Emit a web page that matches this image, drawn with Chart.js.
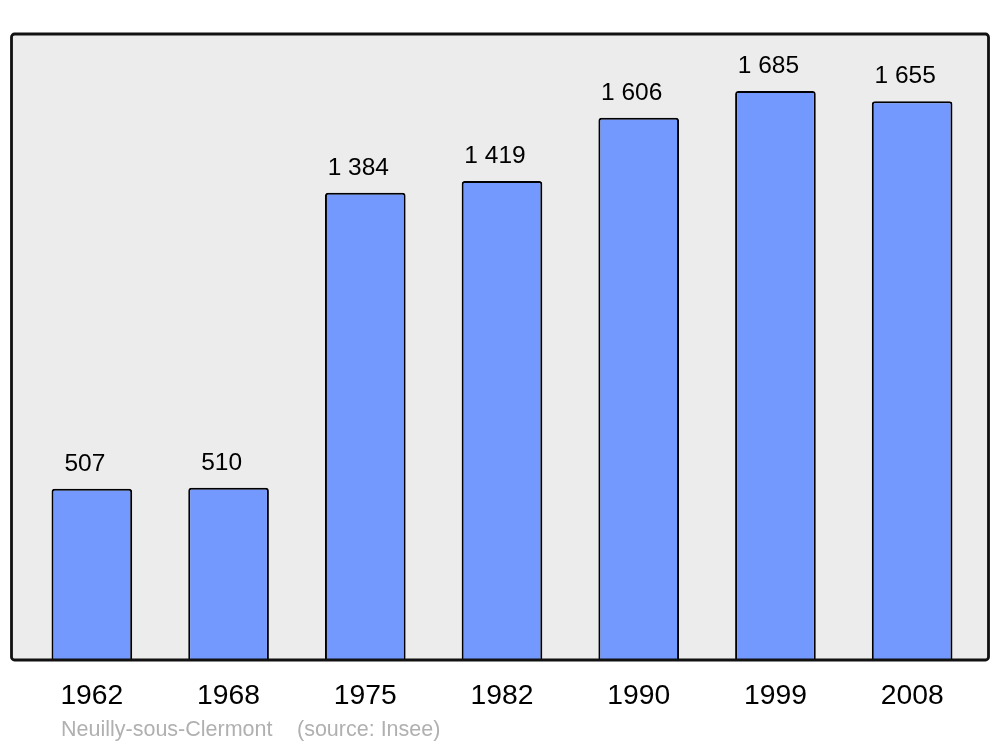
<!DOCTYPE html>
<html>
<head>
<meta charset="utf-8">
<script src="https://cdn.jsdelivr.net/npm/chart.js@4"></script>
<style>
  html, body { margin: 0; padding: 0; background: #ffffff; }
  #wrap { width: 1000px; height: 747px; }
</style>
</head>
<body>
<div id="wrap"><canvas id="c" width="1000" height="747"></canvas></div>
<script>
const years = ["1962", "1968", "1975", "1982", "1990", "1999", "2008"];
const population = [507, 510, 1384, 1419, 1606, 1685, 1655];
const placeName = "Neuilly-sous-Clermont";
const sourceNote = "(source: Insee)";

const FONT = "'Liberation Sans', Arial, sans-serif";

function fmt(v) {
  return String(v).replace(/\B(?=(\d{3})+(?!\d))/g, " ");
}

const frame = {
  id: 'frame',
  beforeDraw(chart) {
    const ctx = chart.ctx;
    const a = chart.chartArea;
    const x0 = a.left - 12, x1 = a.right + 8, y0 = a.top, y1 = a.bottom;
    ctx.save();
    ctx.beginPath();
    ctx.roundRect(x0, y0, x1 - x0, y1 - y0, 3);
    ctx.fillStyle = '#ececec';
    ctx.fill();
    ctx.restore();
  },
  afterDatasetsDraw(chart) {
    const ctx = chart.ctx;
    const a = chart.chartArea;
    const x0 = a.left - 12, x1 = a.right + 8, y0 = a.top, y1 = a.bottom;
    ctx.save();
    ctx.beginPath();
    ctx.roundRect(x0, y0, x1 - x0, y1 - y0, 3);
    ctx.lineWidth = 2.8;
    ctx.strokeStyle = '#111111';
    ctx.stroke();
    // value labels
    const meta = chart.getDatasetMeta(0);
    ctx.fillStyle = '#000000';
    ctx.font = '24.5px ' + FONT;
    ctx.textAlign = 'center';
    ctx.textBaseline = 'alphabetic';
    meta.data.forEach((bar, i) => {
      ctx.fillText(fmt(population[i]), bar.x - 7, bar.y - 18);
    });
    // footer
    ctx.fillStyle = '#b0b0b0';
    ctx.font = '21.5px ' + FONT;
    ctx.textAlign = 'left';
    ctx.textBaseline = 'middle';
    ctx.fillText(placeName, 61, 730);
    ctx.fillText(sourceNote, 297, 730);
    ctx.restore();
  }
};

new Chart(document.getElementById('c'), {
  type: 'bar',
  data: {
    labels: years,
    datasets: [{
      data: population,
      backgroundColor: '#7399ff',
      borderColor: '#000000',
      borderWidth: 2,
      borderSkipped: 'bottom',
      borderRadius: { topLeft: 3, topRight: 3, bottomLeft: 0, bottomRight: 0 },
      categoryPercentage: 1.0,
      barPercentage: 0.59
    }]
  },
  options: {
    responsive: false,
    animation: false,
    devicePixelRatio: 1,
    layout: { padding: { left: 23.5, right: 19.5, top: 34, bottom: 0 } },
    plugins: { legend: { display: false }, tooltip: { enabled: false }, title: { display: false } },
    scales: {
      x: {
        grid: { display: false, drawTicks: false },
        border: { display: false },
        ticks: { color: '#000000', font: { family: FONT, size: 28.3 }, padding: 19, maxRotation: 0 },
        afterFit(scale) { scale.height = 87; }
      },
      y: {
        display: false,
        min: 0,
        max: 1854
      }
    }
  },
  plugins: [frame]
});
</script>
</body>
</html>
